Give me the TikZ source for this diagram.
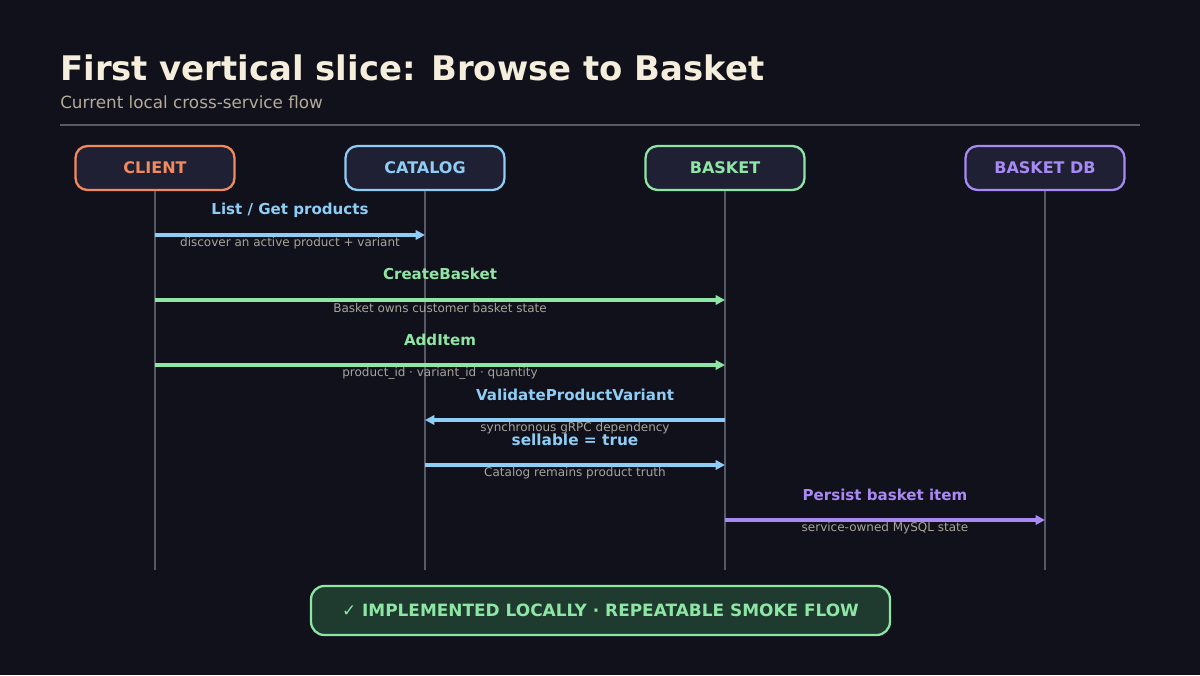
\documentclass[tikz,border=0pt]{standalone}
\usepackage{fontspec}
\setmainfont{DejaVu Sans}
\usetikzlibrary{arrows.meta}
\definecolor{bg}{HTML}{10111A}
\definecolor{cream}{HTML}{F5EEDC}
\definecolor{sub}{HTML}{B5AB99}
\definecolor{corange}{HTML}{F28A5E}
\definecolor{cblue}{HTML}{8ECDF5}
\definecolor{cgreen}{HTML}{8EE6A5}
\definecolor{cpurple}{HTML}{A98AF5}
\definecolor{boxfill}{HTML}{1F2033}
\definecolor{life}{HTML}{555A66}
\definecolor{okfill}{HTML}{1F3A2E}
\definecolor{small}{HTML}{A8A49C}
\begin{document}
\begin{tikzpicture}[x=0.75pt,y=-0.75pt,
  actor/.style={draw=#1,text=#1,fill=boxfill,line width=1.7pt,rounded corners=9pt,minimum width=159*0.75pt,minimum height=44*0.75pt,font=\fontsize{12}{14}\selectfont\bfseries,inner sep=0pt},
  msg/.style={draw=#1,line width=3pt,-{Triangle[length=7pt,width=7pt]}},
  lbl/.style={text=#1,font=\fontsize{11.3}{13}\selectfont\bfseries,inner sep=0pt},
  note/.style={text=small,font=\fontsize{9}{11}\selectfont,inner sep=0pt},
  lifeline/.style={draw=life,line width=1pt}]
\fill[bg] (0,0) rectangle (1200,675);
\useasboundingbox (0,0) rectangle (1200,675);
\node[anchor=west,text=cream,font=\fontsize{25.4}{30}\selectfont\bfseries,inner sep=0pt] (title) at (60,68) {First vertical slice: Browse to Basket};
\node[anchor=west,text=sub,font=\fontsize{12.6}{15}\selectfont,inner sep=0pt] (subtitle) at (60,102) {Current local cross-service flow};
\draw[life,line width=1.2pt] (60,125) -- (1140,125);

\node[actor=corange] (client) at (155,168) {CLIENT};
\node[actor=cblue] (catalog) at (425,168) {CATALOG};
\node[actor=cgreen] (basket) at (725,168) {BASKET};
\node[actor=cpurple] (db) at (1045,168) {BASKET DB};
\foreach \n/\x in {client/155,catalog/425,basket/725,db/1045}{
  \coordinate (\n-end) at (\x,570);
  \draw[lifeline] (\n) -- (\n-end);
  \foreach \y in {235,300,365,420,465,520}{\coordinate (\n-\y) at (\x,\y);}
}
\draw[msg=cblue] (client-235) -- (catalog-235);
\node[lbl=cblue] (l1) at (290,210) {List / Get products};
\node[note] (n1) at (290,243) {discover an active product + variant};

\draw[msg=cgreen] (client-300) -- (basket-300);
\node[lbl=cgreen] (l2) at (440,274) {CreateBasket};
\node[note] (n2) at (440,308.5) {Basket owns customer basket state};

\draw[msg=cgreen] (client-365) -- (basket-365);
\node[lbl=cgreen] (l3) at (440,340) {AddItem};
\node[note] (n3) at (440,373.5) {product\_id · variant\_id · quantity};

\draw[msg=cblue] (basket-420) -- (catalog-420);
\node[lbl=cblue] (l4) at (575,395) {ValidateProductVariant};
\node[note] (n4) at (575,428.5) {synchronous gRPC dependency};

\draw[msg=cblue] (catalog-465) -- (basket-465);
\node[lbl=cblue,font=\fontsize{11.5}{13}\selectfont\bfseries] (l5) at (575,440) {sellable = true};
\node[note] (n5) at (575,473.5) {Catalog remains product truth};

\draw[msg=cpurple] (basket-520) -- (db-520);
\node[lbl=cpurple] (l6) at (885,495) {Persist basket item};
\node[note] (n6) at (885,528.5) {service-owned MySQL state};

\node[draw=cgreen,fill=okfill,text=cgreen,line width=1.7pt,rounded corners=10pt,minimum width=579*0.75pt,minimum height=49*0.75pt,font=\fontsize{12.7}{14}\selectfont\bfseries,inner sep=0pt] (status) at (600.5,610.5) {✓ IMPLEMENTED LOCALLY · REPEATABLE SMOKE FLOW};
\end{tikzpicture}
\end{document}
